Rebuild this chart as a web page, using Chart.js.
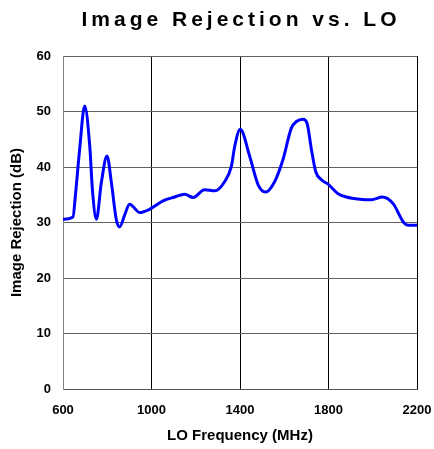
<!DOCTYPE html>
<html>
<head>
<meta charset="utf-8">
<script src="https://cdn.jsdelivr.net/npm/chart.js@4"></script>
<style>
  html, body { margin: 0; padding: 0; background: #fff; }
  #wrap { position: relative; width: 434px; height: 449px; }
  #title {
    position: absolute; left: 0; top: 7px; width: 482px; text-align: center;
    font: bold 21px "Liberation Sans", Arial, sans-serif; letter-spacing: 4px; color: #000;
  }
</style>
</head>
<body>
<div id="wrap">
  <div id="title">Image Rejection vs. LO</div>
  <canvas id="chart" width="434" height="449"></canvas>
</div>
<script>
// LO frequency (MHz) and image rejection (dB)
const freqMHz = [600, 645, 657, 675, 698, 721, 733, 751, 773, 799, 819, 841, 856, 879, 901, 947, 992,
  1052, 1105, 1150, 1188, 1240, 1286, 1331, 1361, 1376, 1401, 1444, 1482, 1516, 1557, 1594, 1632,
  1655, 1685, 1703, 1723, 1742, 1768, 1798, 1843, 1881, 1941, 1994, 2044, 2092, 2140, 2160, 2200];
const rejectionDb = [30.6, 31.0, 35.3, 43.1, 51.0, 43.7, 35.9, 30.6, 37.1, 42.0, 37.1, 30.5, 29.2, 31.4, 33.3, 31.8, 32.4,
  33.9, 34.6, 35.1, 34.5, 35.9, 35.7, 37.4, 40.1, 43.7, 46.8, 41.9, 36.8, 35.5, 37.4, 41.3, 47.0,
  48.2, 48.6, 47.9, 43.1, 39.2, 37.7, 36.9, 35.2, 34.6, 34.2, 34.1, 34.6, 33.4, 30.0, 29.5, 29.5];

const xTicks = [600, 1000, 1400, 1800, 2200];
const yTicks = [0, 10, 20, 30, 40, 50, 60];

const FONT = '"Liberation Sans", Arial, sans-serif';

new Chart(document.getElementById('chart'), {
  type: 'line',
  data: {
    datasets: [{
      data: freqMHz.map((f, i) => ({ x: f, y: rejectionDb[i] })),
      borderColor: '#0000ff',
      borderWidth: 3,
      pointRadius: 0,
      tension: 0.4,
      cubicInterpolationMode: 'monotone',
      fill: false,
    }],
  },
  options: {
    responsive: false,
    animation: false,
    layout: { padding: { top: 56, right: 17, left: 0, bottom: 0 } },
    plugins: { legend: { display: false }, tooltip: { enabled: false }, title: { display: false } },
    scales: {
      x: {
        type: 'linear',
        min: 600, max: 2200,
        afterBuildTicks: s => { s.ticks = xTicks.map(v => ({ value: v })); },
        afterFit: s => { s.height = 60; s.paddingLeft = 0; s.paddingRight = 0; },
        grid: { color: '#000', drawTicks: false },
        border: { color: '#555' },
        ticks: { color: '#000', padding: 14, callback: v => String(v),
                 font: { family: FONT, size: 13, weight: 'bold' } },
        title: { display: true, text: 'LO Frequency (MHz)', color: '#000', padding: { top: 4 },
                 font: { family: FONT, size: 15, weight: 'bold' } },
      },
      y: {
        min: 0, max: 60,
        afterBuildTicks: s => { s.ticks = yTicks.map(v => ({ value: v })); },
        afterFit: s => { s.width = 63; s.paddingTop = 0; s.paddingBottom = 0; },
        grid: { color: '#606060', drawTicks: false },
        border: { color: '#808080' },
        ticks: { color: '#000', padding: 12, font: { family: FONT, size: 13, weight: 'bold' } },
        title: { display: true, text: 'Image Rejection (dB)', color: '#000', padding: { top: 8, bottom: 4 },
                 font: { family: FONT, size: 15, weight: 'bold' } },
      },
    },
  },
});
</script>
</body>
</html>
